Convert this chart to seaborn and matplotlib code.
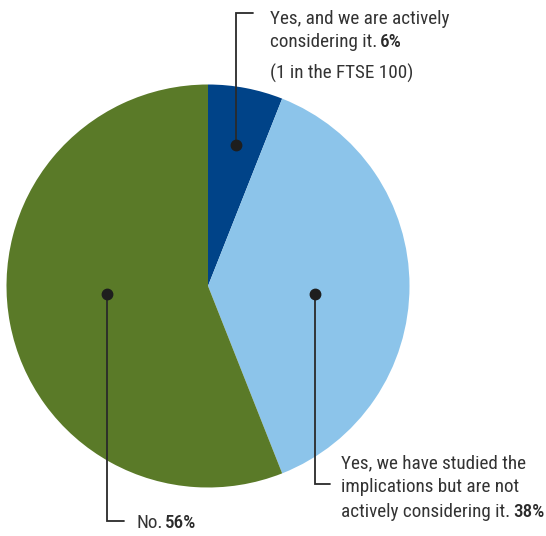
import matplotlib
matplotlib.use("Agg")
import matplotlib.pyplot as plt
import seaborn as sns
from matplotlib import font_manager

sns.set_theme(style="white")

names = {f.name for f in font_manager.fontManager.ttflist}
fam = [f for f in ["Liberation Sans Narrow", "Roboto Condensed", "Roboto", "DejaVu Sans"] if f in names]
plt.rcParams['font.family'] = fam

categories = ["Yes, and we are actively considering it.",
              "Yes, we have studied the implications but are not actively considering it.",
              "No."]
values = [6, 38, 56]
colors = ["#004388", "#8cc4ea", "#5a7a28"]

W, H = 546, 536
fig = plt.figure(figsize=(W / 100, H / 100), dpi=100)
ax = fig.add_axes([0, 0, 1, 1])
ax.set_xlim(0, W)
ax.set_ylim(0, H)
ax.set_aspect("equal")
ax.axis("off")

def Y(y):
    return H - y

ax.pie(values, colors=colors, startangle=90, counterclock=False,
       center=(208, Y(286)), radius=201.5, frame=True,
       wedgeprops=dict(linewidth=0))
ax.set_xlim(0, W)
ax.set_ylim(0, H)
ax.axis("off")

lc = "#2a2a2a"
tc = "#333333"
fs = 13.8

leaders = [
    [(236, 145), (236, 13), (253, 13)],
    [(315, 294), (315, 484), (330, 484)],
    [(107, 294), (107, 521), (124, 521)],
]
for pts in leaders:
    xs = [p[0] for p in pts]
    ys = [Y(p[1]) for p in pts]
    ax.plot(xs, ys, color=lc, lw=1.3, solid_joinstyle="miter")
    ax.plot(xs[0], ys[0], "o", color="#1e1e1e", ms=7.5)

fig.canvas.draw()
renderer = fig.canvas.get_renderer()

def mixed(x, y, normal, bold):
    t = ax.text(x, Y(y), normal, fontsize=fs, color=tc, va="center", ha="left")
    if bold:
        bb = t.get_window_extent(renderer=renderer)
        inv = ax.transData.inverted()
        x1 = inv.transform((bb.x1, bb.y0))[0]
        ax.text(x1 + 3, Y(y), bold, fontsize=fs, color="#2a2a2a", va="center",
                ha="left", fontweight="medium")

mixed(270, 19, "Yes, and we are actively", "")
mixed(270, 42, "considering it.", f"{values[0]}%")
mixed(270, 73, "(1 in the FTSE 100)", "")

mixed(341, 463, "Yes, we have studied the", "")
mixed(341, 487, "implications but are not", "")
mixed(341, 512, "actively considering it.", f"{values[1]}%")

mixed(136, 523, "No.", f"{values[2]}%")

fig.savefig("out.png", dpi=100)
